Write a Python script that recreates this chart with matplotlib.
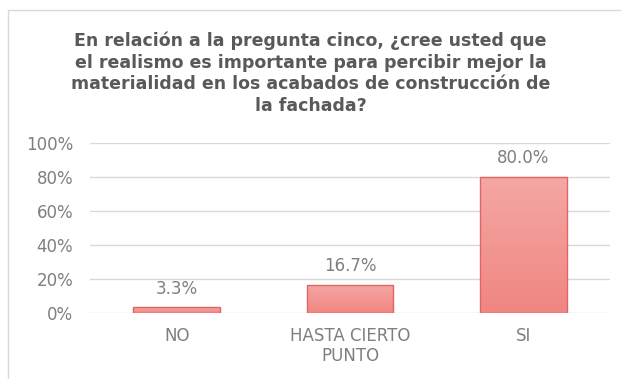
import matplotlib.pyplot as plt
from matplotlib.patches import Rectangle
import numpy as np

plt.rcParams['font.family'] = ['DejaVu Sans']

categories = ["NO", "HASTA CIERTO\nPUNTO", "SI"]
values = [3.3, 16.7, 80.0]
yticks = [0, 20, 40, 60, 80, 100]
title = ("En relación a la pregunta cinco, ¿cree usted que\n"
         "el realismo es importante para percibir mejor la\n"
         "materialidad en los acabados de construcción de\n"
         "la fachada?")

W, H = 621, 379
fig = plt.figure(figsize=(W / 100, H / 100), dpi=100)

# outer chart frame (runs off the right and bottom edges)
fig.patches.append(Rectangle((8 / W, -0.05), 1.0, 1 - 10 / H + 0.05,
                             transform=fig.transFigure, fill=False,
                             edgecolor='#d9d9d9', linewidth=1))

ax = fig.add_axes([90 / W, 1 - 313 / H, 520 / W, 170 / H])
x = np.arange(len(categories))
bars = ax.bar(x, values, width=0.5, color='none', edgecolor='#e06666',
              linewidth=1, zorder=3)

# vertical gradient fill, lighter on top
grad = np.linspace(0, 1, 100).reshape(-1, 1)
cmap = plt.matplotlib.colors.LinearSegmentedColormap.from_list(
    'g', ['#f08682', '#f4a7a3'])
for bar in bars:
    bx, by = bar.get_x(), bar.get_y()
    bw, bh = bar.get_width(), bar.get_height()
    im = ax.imshow(grad, extent=[bx, bx + bw, by, by + bh], origin='lower',
                   cmap=cmap, aspect='auto', zorder=2)
    im.set_clip_path(bar)
    ax.annotate(f'{bh:.1f}%', (bx + bw / 2, bh), xytext=(0, 7),
                textcoords='offset points', ha='center', va='bottom',
                fontsize=12, color='#7f7f7f')

ax.set_xlim(-0.5, 2.5)
ax.set_ylim(0, 100)
ax.set_yticks(yticks)
ax.set_yticklabels([f'{t}%' for t in yticks])
ax.set_xticks(x)
ax.set_xticklabels(categories, linespacing=1.15)
ax.tick_params(length=0, labelsize=12, colors='#7f7f7f')
ax.tick_params(axis='y', pad=12)
ax.tick_params(axis='x', pad=10)
ax.grid(axis='y', color='#d9d9d9', linewidth=1, zorder=0)
for s in ax.spines.values():
    s.set_visible(False)
ax.set_axisbelow(True)

fig.text(0.5, 1 - 32 / H, title, ha='center', va='top', fontsize=12.5,
         fontweight='bold', color='#595959', linespacing=1.24)

fig.savefig('out.png', dpi=100)
